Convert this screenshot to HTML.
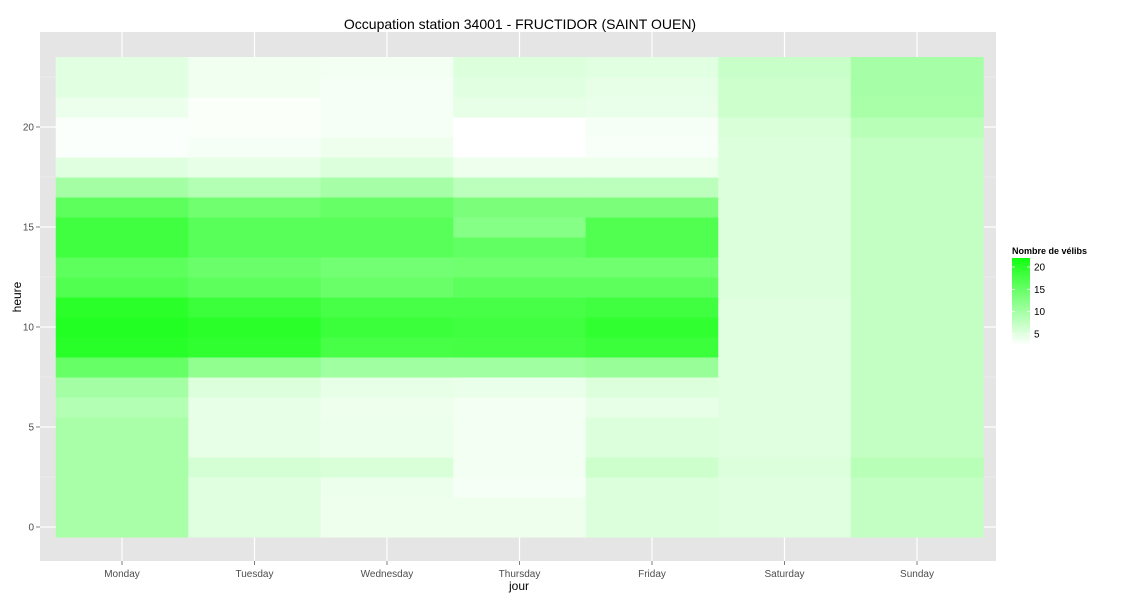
<!DOCTYPE html>
<html><head><meta charset="utf-8">
<style>body{margin:0;background:#fff}svg{display:block;font-family:"Liberation Sans",Arial,sans-serif}</style>
</head><body>
<svg id="c" width="1125" height="600">
<defs><linearGradient id="lg" x1="0" y1="1" x2="0" y2="0"><stop offset="0" stop-color="#ffffff"/><stop offset="1" stop-color="#11ff11"/></linearGradient></defs>
<rect x="40" y="32" width="956" height="529" fill="#e5e5e5"/>
<g id="grid"></g><g id="tiles"></g><g id="axes"></g>
<text x="520" y="29" text-anchor="middle" font-size="14" fill="#000">Occupation station 34001 - FRUCTIDOR (SAINT OUEN)</text>
<text x="519" y="590" text-anchor="middle" font-size="12" fill="#000">jour</text>
<text transform="translate(21,297) rotate(-90)" text-anchor="middle" font-size="12" fill="#000">heure</text>
<g>
<text x="1012" y="254" font-size="9" font-weight="bold" fill="#000">Nombre de vélibs</text>
<rect x="1012" y="258" width="18" height="87" fill="url(#lg)"/>
<g id="leg"></g>
</g>
</svg>
<script>
const days=["Monday","Tuesday","Wednesday","Thursday","Friday","Saturday","Sunday"];
const yTicks=[0,5,10,15,20];
const legendTicks=[5,10,15,20];
const monday=[9.0,9.0,9.0,9.0,9.0,9.0,8.2,9.3,13.9,18.5,19.0,18.4,15.5,14.6,16.7,16.7,14.6,9.3,4.8,2.8,2.8,3.9,4.7,4.7];
const tuesday=[4.8,4.8,4.8,5.7,4.4,4.4,4.4,5.1,10.8,17.9,18.4,17.2,14.6,13.6,14.9,14.9,13.2,8.2,4.4,3.2,2.9,2.9,3.6,3.6];
const wednesday=[3.8,3.8,3.9,5.4,3.9,3.9,3.8,4.4,9.6,16.1,17.0,16.1,13.7,12.9,14.9,14.9,13.9,9.1,5.1,3.8,3.2,3.2,3.2,3.5];
const thursday=[3.8,3.8,3.2,3.5,3.5,3.5,3.5,4.1,9.6,16.4,16.7,16.1,14.6,13.2,14.3,11.5,12.3,7.5,3.8,2.5,2.5,4.4,4.7,5.1];
const friday=[5.1,5.1,5.1,6.3,5.1,5.1,4.4,5.1,10.2,17.0,17.9,16.7,14.6,13.2,15.5,15.5,12.3,7.5,3.8,3.0,3.2,4.1,4.4,4.7];
const saturday=[4.8,4.8,4.8,5.1,4.8,4.8,4.8,4.8,4.8,4.8,4.8,4.8,5.1,5.1,5.1,5.1,5.1,5.1,5.1,5.1,5.4,6.3,6.3,6.6];
const sunday=[7.0,7.0,7.0,7.8,7.0,7.0,7.0,7.0,7.0,7.0,7.0,7.0,7.0,7.0,7.0,7.0,7.0,7.0,7.0,7.0,7.8,9.0,9.1,9.1];
const series=[monday,tuesday,wednesday,thursday,friday,saturday,sunday];
const NS="http://www.w3.org/2000/svg";
const vmin=2.5,vmax=21.5;
const xC=i=>122+i*132.5, cw=132.5;
const yC=h=>527-20*h, ch=20;
const ly=v=>334-(v-5)*(67/15);
function col(v){let t=Math.max(0,Math.min(1,(v-vmin)/(vmax-vmin)));let r=Math.round(255*(1-t));return `rgb(${r},255,${r})`;}
function mk(tag,at,parent){const e=document.createElementNS(NS,tag);for(const k in at)e.setAttribute(k,at[k]);parent.appendChild(e);return e;}
const grid=document.getElementById('grid'),tiles=document.getElementById('tiles'),axes=document.getElementById('axes'),leg=document.getElementById('leg');
for(let v=2.5;v<=22.5;v+=5){const l=mk('line',{x1:40,x2:996,y1:yC(v),y2:yC(v),stroke:'#f2f2f2','stroke-width':0.6},grid);

}
yTicks.forEach(v=>{const l=mk('line',{x1:40,x2:996,y1:yC(v),y2:yC(v),stroke:'#fff','stroke-width':1.2},grid);


const t=mk('line',{x1:36,x2:40,y1:yC(v),y2:yC(v),stroke:'#7f7f7f'},axes);


const tx=mk('text',{x:34,y:yC(v)+3.5,'text-anchor':'end','font-size':10,fill:'#4d4d4d'},axes);tx.textContent=v;

});
days.forEach((d,i)=>{const l=mk('line',{x1:xC(i),x2:xC(i),y1:32,y2:561,stroke:'#fff','stroke-width':1.2},grid);


const t=mk('line',{x1:xC(i),x2:xC(i),y1:561,y2:565,stroke:'#7f7f7f'},axes);


const tx=mk('text',{x:xC(i),y:577,'text-anchor':'middle','font-size':10,fill:'#4d4d4d'},axes);tx.textContent=d;


series[i].forEach((v,h)=>{const r=mk('rect',{x:xC(i)-cw/2,y:yC(h)-ch/2,width:cw+0.5,height:ch+0.5,fill:col(v)},tiles);

});});
legendTicks.forEach(v=>{const a=mk('line',{x1:1012,x2:1015,y1:ly(v),y2:ly(v),stroke:'#fff','stroke-width':0.8},leg);


const b=mk('line',{x1:1027,x2:1030,y1:ly(v),y2:ly(v),stroke:'#fff','stroke-width':0.8},leg);


const tx=mk('text',{x:1034,y:ly(v)+3.5,'font-size':10,fill:'#000'},leg);tx.textContent=v;

});
</script>
</body></html>
